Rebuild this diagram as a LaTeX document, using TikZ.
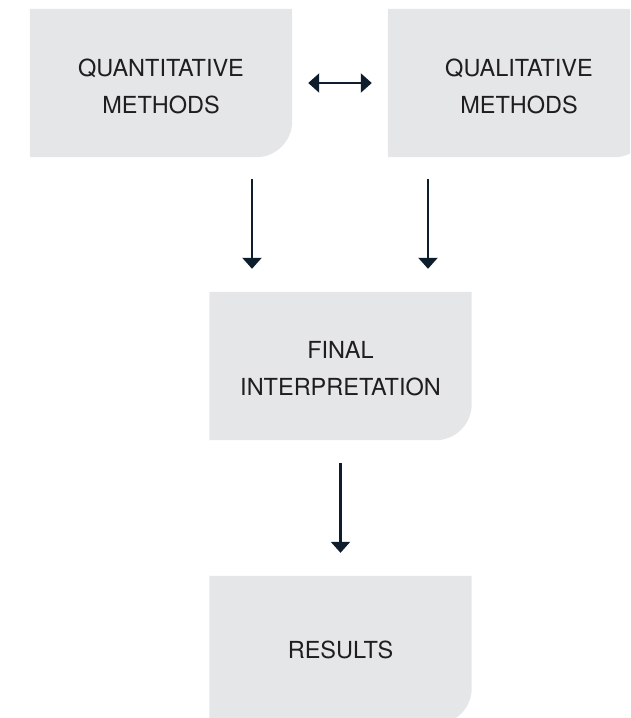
\documentclass[tikz,border=0pt]{standalone}
\usepackage{fontspec}
\setmainfont{TeX Gyre Heros}
\usetikzlibrary{arrows.meta,backgrounds}
\definecolor{boxgray}{HTML}{E5E6E8}
\definecolor{inkblue}{HTML}{0D1D2B}
\definecolor{textgray}{HTML}{1F1D1E}
\tikzset{
  stage/.style={minimum width=262pt, minimum height=148pt, inner sep=0pt,
    align=center, text=textgray, font=\fontsize{23.5}{37.5}\selectfont},
  flow/.style={draw=inkblue, line width=2.2pt, -{Triangle[width=19pt,length=11pt]}},
  twoway/.style={draw=inkblue, line width=2.2pt,
    {Triangle[width=19pt,length=11pt]}-{Triangle[width=19pt,length=11pt]}},
}
% grey panel with one rounded corner (bottom right)
\newcommand\stagefill[1]{%
  \fill[boxgray] (#1.north west) -- (#1.north east)
    -- ([yshift=36pt]#1.south east) arc[start angle=0, end angle=-90, radius=36pt]
    -- (#1.south west) -- cycle;}
% invisible strut that lowers a two-line label a little
\newcommand\toppad[1]{\rule{0pt}{#1}}
\begin{document}
\begin{tikzpicture}[x=1pt, y=-1pt]
  \useasboundingbox (0,0) rectangle (630,718);

  \node[stage] (quant)  at (161,83)    {\toppad{24.5pt}QUANTITATIVE\\METHODS};
  \node[stage] (qual)   at (519,83)    {\toppad{24.5pt}QUALITATIVE\\METHODS};
  \node[stage] (interp) at (340.5,366) {\toppad{22pt}FINAL\\INTERPRETATION};
  \node[stage] (res)    at (340.5,650) {RESULTS};

  \begin{scope}[on background layer]
    \clip (0,0) rectangle (630,718);
    \stagefill{quant}
    \stagefill{qual}
    \stagefill{interp}
    \stagefill{res}
  \end{scope}

  % connectors
  \draw[twoway, shorten <=16pt, shorten >=16pt] (quant) -- (qual);
  \draw[flow, shorten <=22pt, shorten >=23pt]
    ([xshift=91pt]quant.south) -- ([xshift=91pt]quant.south |- interp.north);
  \draw[flow, shorten <=22pt, shorten >=23pt]
    ([xshift=-91pt]qual.south) -- ([xshift=-91pt]qual.south |- interp.north);
  \draw[flow, shorten <=23pt, shorten >=23pt] (interp) -- (res);
\end{tikzpicture}
\end{document}
